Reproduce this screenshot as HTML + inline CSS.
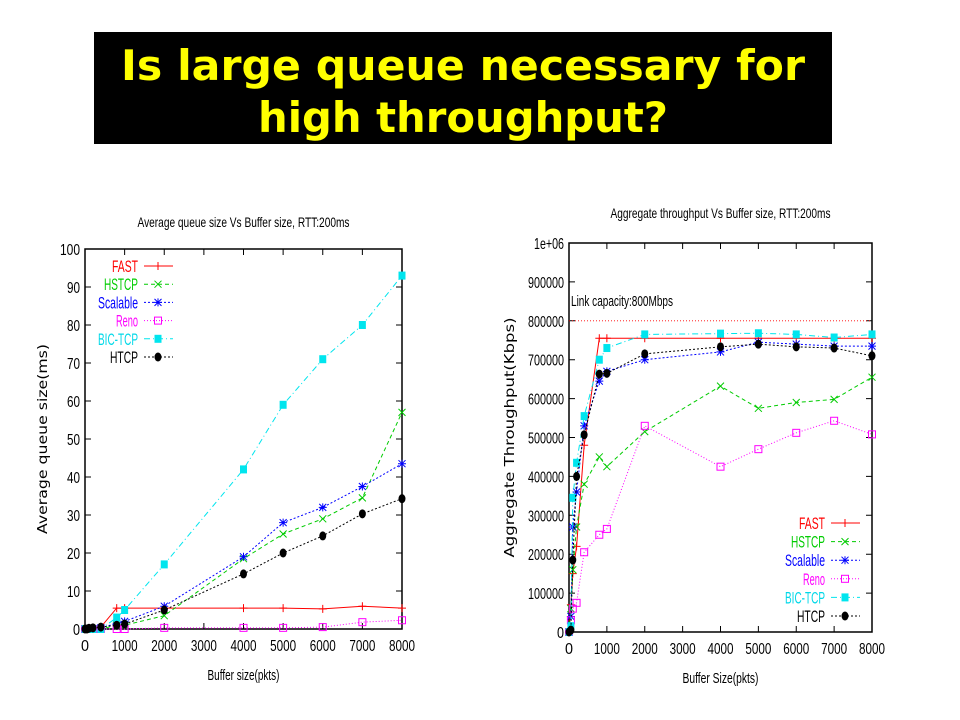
<!DOCTYPE html>
<html><head><meta charset="utf-8"><style>
html,body{margin:0;padding:0;background:#fff;}
svg{display:block;font-family:"Liberation Sans",sans-serif;}
</style></head><body>
<svg id="page" width="960" height="720" xmlns="http://www.w3.org/2000/svg">
<rect x="94" y="32" width="738" height="112" fill="#000"/>
<text x="463" y="80" text-anchor="middle" font-family="DejaVu Sans" font-weight="bold" font-size="42" fill="#ffff00" textLength="684" lengthAdjust="spacingAndGlyphs">Is large queue necessary for</text>
<text x="463" y="132" text-anchor="middle" font-family="DejaVu Sans" font-weight="bold" font-size="42" fill="#ffff00" textLength="410" lengthAdjust="spacingAndGlyphs">high throughput?</text>
<g id="left"></g>
<g id="right"></g>
</svg>
<script>
const xVals=[0,50,100,200,400,800,1000,2000,4000,5000,6000,7000,8000];
const seriesNames=["FAST","HSTCP","Scalable","Reno","BIC-TCP","HTCP"];
const qFAST=[0,0,0,0,0.5,5.5,5.5,5.5,5.5,5.5,5.3,6,5.5];
const qHSTCP=[0,0,0,0,0,1,1,3.5,18.5,25,29,34.5,57];
const qScalable=[0,0,0,0,0.3,1.5,2,6,19,28,32,37.5,43.5];
const qReno=[0,0,0,0,0,0,0,0.3,0.3,0.3,0.5,1.8,2.3];
const qBIC=[0,0,0,0,0,3,5,17,42,59,71,80,93];
const qHTCP=[0,0,0.2,0.3,0.5,1,1.3,5,14.5,20,24.5,30.3,34.3];
const tFAST=[0,70000,150000,220000,480000,755000,755000,755000,755000,755000,755000,755000,755000];
const tHSTCP=[0,60000,160000,270000,380000,450000,425000,515000,632000,575000,590000,598000,655000];
const tScalable=[0,40000,270000,360000,530000,645000,670000,700000,720000,745000,740000,735000,735000];
const tReno=[0,30000,60000,75000,205000,250000,265000,530000,425000,470000,512000,543000,508000];
const tBIC=[0,15000,345000,435000,555000,700000,730000,765000,767000,768000,765000,757000,765000];
const tHTCP=[0,5000,185000,400000,507000,663000,665000,715000,733000,740000,733000,730000,710000];
const xTicks=[0,1000,2000,3000,4000,5000,6000,7000,8000];
const qTicks=[0,10,20,30,40,50,60,70,80,90,100];
const tTicks=[0,100000,200000,300000,400000,500000,600000,700000,800000,900000,1000000];
const tTickLabels=["0","100000","200000","300000","400000","500000","600000","700000","800000","900000","1e+06"];
const linkCapacity=800000;

const NS="http://www.w3.org/2000/svg";
const colors=["#ff0000","#00cc00","#0000ff","#ff00ff","#00e5ee","#000000"];
const dashes=["","4,3","2,2","1,2","6,3,1,3","2,2"];
function mk(p,tag,a){const e=document.createElementNS(NS,tag);for(const k in a)e.setAttribute(k,a[k]);p.appendChild(e);return e;}
function marker(g,i,x,y,c){
  let m;
  if(i===0){m=mk(g,"path",{d:`M${x-4},${y}H${x+4}M${x},${y-4}V${y+4}`,stroke:c,"stroke-width":1,fill:"none"});}
  else if(i===1){m=mk(g,"path",{d:`M${x-3.5},${y-3.5}L${x+3.5},${y+3.5}M${x-3.5},${y+3.5}L${x+3.5},${y-3.5}`,stroke:c,"stroke-width":1,fill:"none"});}
  else if(i===2){m=mk(g,"path",{d:`M${x-3.5},${y-3.5}L${x+3.5},${y+3.5}M${x-3.5},${y+3.5}L${x+3.5},${y-3.5}M${x},${y-4}V${y+4}M${x-4},${y}H${x+4}`,stroke:c,"stroke-width":1,fill:"none"});}
  else if(i===3){m=mk(g,"rect",{x:x-3.5,y:y-3.5,width:7,height:7,stroke:c,"stroke-width":1,fill:"none"});}
  else if(i===4){m=mk(g,"rect",{x:x-3.5,y:y-4,width:7,height:8,fill:c});}
  else {m=mk(g,"ellipse",{cx:x,cy:y,rx:3.5,ry:4.5,fill:c});}
  
  
}
function chart(g,o){
  const sx=v=>o.x0+(v-0)/8000*(o.x1-o.x0);
  const sy=v=>o.y0-(v/o.ymax)*(o.y0-o.y1);
  const t=mk(g,"text",{x:(o.x0+o.x1)/2,y:o.titleY,"text-anchor":"middle","font-size":14,textLength:o.titleW,lengthAdjust:"spacingAndGlyphs"});t.textContent=o.title;
  
  const f=mk(g,"rect",{x:o.x0,y:o.y1,width:o.x1-o.x0,height:o.y0-o.y1,fill:"none",stroke:"#000","stroke-width":1.5});
  
  o.yTicks.forEach((v,i)=>{const y=sy(v);
    mk(g,"path",{d:`M${o.x0},${y}h6M${o.x1},${y}h-6`,stroke:"#000"});
    const l=mk(g,"text",{x:o.x0-5,y:y+6,"text-anchor":"end","font-size":16,textLength:o.yLabW[i],lengthAdjust:"spacingAndGlyphs"});l.textContent=o.yLabels[i];
    });
  xTicks.forEach(v=>{const x=sx(v);
    mk(g,"path",{d:`M${x},${o.y0}v-6M${x},${o.y1}v6`,stroke:"#000"});
    const l=mk(g,"text",{x:x,y:o.y0+22,"text-anchor":"middle","font-size":16,textLength:v?26:8,lengthAdjust:"spacingAndGlyphs"});l.textContent=v;
    });
  const xl=mk(g,"text",{x:(o.x0+o.x1)/2,y:o.y0+51,"text-anchor":"middle","font-size":15,textLength:o.xTitleW,lengthAdjust:"spacingAndGlyphs"});xl.textContent=o.xTitle;
  
  const yl=mk(g,"text",{x:0,y:0,"text-anchor":"middle","font-size":13,"font-family":"DejaVu Sans",transform:`translate(${o.yTitleX},${(o.y0+o.y1)/2}) rotate(-90)`,textLength:o.yTitleW,lengthAdjust:"spacingAndGlyphs"});yl.textContent=o.yTitle;
  
  if(o.ref){const y=sy(o.ref);const r=mk(g,"line",{x1:o.x0,x2:o.x1,y1:y,y2:y,stroke:"#ff0000","stroke-width":0.8,"stroke-dasharray":"1,2"});
    
    const rt=mk(g,"text",{x:o.x0+2,y:y-15,"font-size":15,textLength:102,lengthAdjust:"spacingAndGlyphs"});rt.textContent="Link capacity:800Mbps";
    }
  o.series.forEach((s,i)=>{
    const sg=mk(g,"g",{});
    
    
    const pts=s.map((v,j)=>sx(xVals[j])+","+sy(v)).join(" ");
    mk(sg,"polyline",{points:pts,fill:"none",stroke:colors[i],"stroke-width":1,"stroke-dasharray":dashes[i]});
    s.forEach((v,j)=>marker(sg,i,sx(xVals[j]),sy(v),colors[i]));
    const ly=o.legY+i*o.legDy;
    const le=mk(g,"g",{});
    
    
    const lt=mk(le,"text",{x:o.legX,y:ly+6,"text-anchor":"end","font-size":17,fill:colors[i]==="#00e5ee"?"#00d8e8":colors[i],textLength:[26,34,40,22,40,28][i],lengthAdjust:"spacingAndGlyphs"});lt.textContent=seriesNames[i];
    mk(le,"line",{x1:o.legX+6,x2:o.legX+35,y1:ly,y2:ly,stroke:colors[i],"stroke-dasharray":dashes[i]});
    marker(le,i,o.legX+20,ly,colors[i]);
  });
}
chart(document.getElementById("left"),{x0:85,x1:402,y0:629,y1:249,ymax:100,yTicks:qTicks,yLabels:qTicks.map(String),yLabW:qTicks.map(v=>v===100?20:v?13:7),
  series:[qFAST,qHSTCP,qScalable,qReno,qBIC,qHTCP],title:"Average queue size Vs Buffer size, RTT:200ms",titleY:227,titleW:212,
  xTitle:"Buffer size(pkts)",xTitleW:72,yTitle:"Average queue size(ms)",yTitleX:47,yTitleW:190,legX:138,legY:266,legDy:18.2});
chart(document.getElementById("right"),{x0:569,x1:872,y0:632,y1:243,ymax:1000000,yTicks:tTicks,yLabels:tTickLabels,yLabW:tTicks.map((v,i)=>i===10?30:v?36:7),
  series:[tFAST,tHSTCP,tScalable,tReno,tBIC,tHTCP],title:"Aggregate throughput Vs Buffer size, RTT:200ms",titleY:218,titleW:220,
  xTitle:"Buffer Size(pkts)",xTitleW:76,yTitle:"Aggregate Throughput(Kbps)",yTitleX:514,yTitleW:240,legX:825,legY:523,legDy:18.6,ref:linkCapacity});
</script>
</body></html>
